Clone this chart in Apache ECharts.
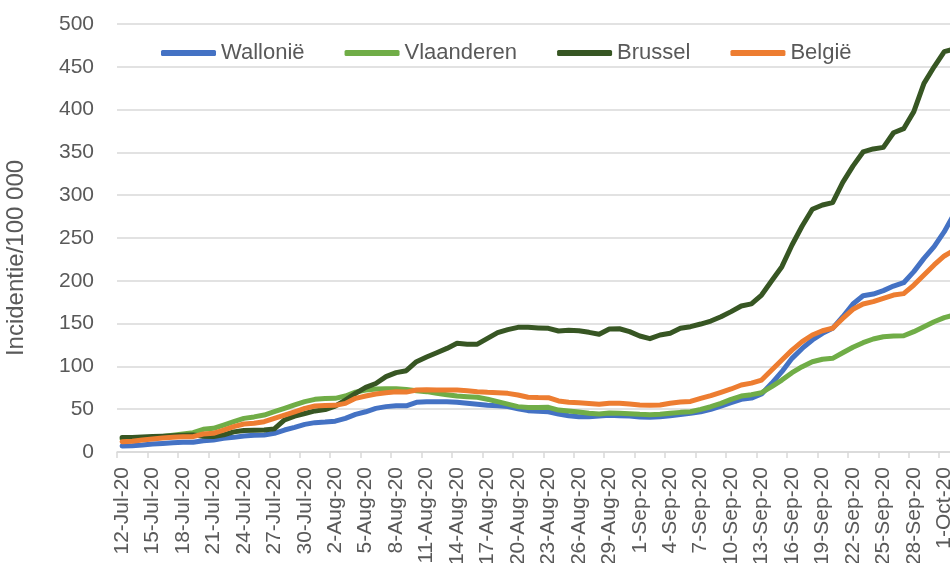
<!DOCTYPE html>
<html>
<head>
<meta charset="utf-8">
<script src="https://cdn.jsdelivr.net/npm/echarts@6/dist/echarts.min.js"></script>
<style>
html,body{margin:0;padding:0;background:#fff;}
#chart{width:950px;height:563px;}
</style>
</head>
<body>
<div id="chart"></div>
<script>
var dates = ['12-Jul-20','13-Jul-20','14-Jul-20','15-Jul-20','16-Jul-20','17-Jul-20','18-Jul-20','19-Jul-20','20-Jul-20','21-Jul-20',
'22-Jul-20','23-Jul-20','24-Jul-20','25-Jul-20','26-Jul-20','27-Jul-20','28-Jul-20','29-Jul-20','30-Jul-20','31-Jul-20',
'1-Aug-20','2-Aug-20','3-Aug-20','4-Aug-20','5-Aug-20','6-Aug-20','7-Aug-20','8-Aug-20','9-Aug-20','10-Aug-20',
'11-Aug-20','12-Aug-20','13-Aug-20','14-Aug-20','15-Aug-20','16-Aug-20','17-Aug-20','18-Aug-20','19-Aug-20','20-Aug-20',
'21-Aug-20','22-Aug-20','23-Aug-20','24-Aug-20','25-Aug-20','26-Aug-20','27-Aug-20','28-Aug-20','29-Aug-20','30-Aug-20',
'31-Aug-20','1-Sep-20','2-Sep-20','3-Sep-20','4-Sep-20','5-Sep-20','6-Sep-20','7-Sep-20','8-Sep-20','9-Sep-20',
'10-Sep-20','11-Sep-20','12-Sep-20','13-Sep-20','14-Sep-20','15-Sep-20','16-Sep-20','17-Sep-20','18-Sep-20','19-Sep-20',
'20-Sep-20','21-Sep-20','22-Sep-20','23-Sep-20','24-Sep-20','25-Sep-20','26-Sep-20','27-Sep-20','28-Sep-20','29-Sep-20',
'30-Sep-20','1-Oct-20','2-Oct-20'];

var wallonie = [7,7.4,8.2,9.3,10,10.9,11.3,11.3,13.2,14,16,17.1,18.7,19.5,19.9,21.8,25.7,28.8,32.3,34.3,35,
36,39.3,44,47,51,53,54,54,58,58.6,58.6,58.6,58.2,57,55.8,54.5,54,53,50.6,48.3,47.5,
47,44.4,42.4,41.3,41.3,42,42.8,42.4,42,40.9,40.5,41.3,42.4,43.8,45.2,47,49.8,53.7,57.6,61.5,63,
67.8,80.2,93.8,109.4,121,130.8,138.6,144.5,158,172.9,182.6,184.5,188.5,193.9,197.8,210.7,226.2,239.9,257.4,278.8];

var vlaanderen = [15,15.5,16,17,18,19.5,21,22.6,26.5,27.7,31.5,35.4,39.3,41,43.2,47.1,51,55,58.8,61.5,62.5,
62.7,65.4,70,72.4,73.6,73.9,74,73,71.6,70.5,68.5,67,65.4,64.6,64,61.6,58.8,56,53,52,52,
52.2,49,48,46.7,45.2,44.4,45.5,45.2,44.8,44,43.6,44,45.2,46.3,47,49.8,52.9,56.8,61.5,65.4,67,
69.3,76.3,84,92.7,99.7,105.5,108.3,109.4,116,122.3,127.7,132,134.7,135.5,135.8,140.6,146.4,152.2,156.9,160];

var brussel = [17,17,17.5,18,18.5,19,19.5,20,18.5,18,20,23.5,25,25.5,25.7,27,37.4,42,45,48,49.5,
53.7,60.7,68.5,75.5,80,88,92.7,95,105.5,111,116,121,127,126,126,132.8,139.4,143,145.6,145.6,145,
144.5,141.4,142.2,141.7,139.8,137.5,143.7,144,140.6,135.5,132.4,136.7,138.7,144.5,146.4,149.5,153,158,164,170.6,173,
183.4,200,216.5,241.8,264,283.5,288.6,291.3,315,334,350.5,354,355.9,373,377.7,397.6,430.7,450,467.7,471];

var belgie = [12,12.5,14,15.2,16.4,17.1,17.9,17.9,21,21.8,25.7,29.6,32.7,33.5,35.4,39.3,43.2,47,51,53.7,54.2,
54.5,56.8,62.7,65.4,67.8,69.3,70.5,70,72.4,72.8,72.4,72.4,72.4,71.6,70.5,69.7,69.3,68.5,66.6,64,63.6,
63.5,59.6,58,57.4,56.6,55.7,57,57,56,55,54.5,55,57,58.3,59.1,62.7,65.8,69.7,73.6,78.3,80.5,
84,95.8,107.5,119,128.9,136.7,141.7,144.5,156,166.7,172.9,175.6,179.5,183.4,185,195,206.8,218.5,229,236];

var seriesNames = ['Wallonië','Vlaanderen','Brussel','België'];
var seriesColors = ['#4472C4','#70AD47','#375623','#ED7D31'];
var seriesData = [wallonie, vlaanderen, brussel, belgie];
var yAxisTitle = 'Incidentie/100 000';

var FONT = 'Liberation Sans, Arial, sans-serif';
var TXT = '#595959';

var chart = echarts.init(document.getElementById('chart'), null, {renderer:'canvas'});
chart.setOption({
  animation: false,
  textStyle: {fontFamily: FONT},
  legend: {
    data: seriesNames,
    left: 156, top: 37,
    icon: 'roundRect',
    itemWidth: 55, itemHeight: 6,
    itemGap: 40,
    textStyle: {fontSize: 22, color: TXT, fontFamily: FONT}
  },
  grid: {left: 117, top: 24, width: 842.5, bottom: 111, containLabel: false, outerBoundsMode: 'none'},
  xAxis: {
    type: 'category',
    data: dates,
    boundaryGap: true,
    axisLine: {lineStyle: {color: '#d9d9d9', width: 1.5}},
    axisTick: {show: true, interval: 2, length: 6, lineStyle: {color: '#d9d9d9', width: 1.5}},
    axisLabel: {interval: 2, rotate: 90, margin: 15, fontSize: 21, color: TXT, fontFamily: FONT}
  },
  yAxis: {
    type: 'value',
    min: 0, max: 500, interval: 50,
    name: yAxisTitle,
    nameLocation: 'middle',
    nameGap: 89,
    nameTextStyle: {fontSize: 24, color: TXT, fontFamily: FONT, padding: [0, 40, 0, 0]},
    axisLine: {show: false},
    axisTick: {show: false},
    axisLabel: {margin: 23, fontSize: 21, color: TXT, fontFamily: FONT},
    splitLine: {lineStyle: {color: '#d9d9d9', width: 1.5}}
  },
  series: seriesNames.map(function(n, k){
    return {
      name: n, type: 'line', data: seriesData[k],
      showSymbol: false, symbol: 'none',
      color: seriesColors[k],
      lineStyle: {width: 5, color: seriesColors[k], cap: 'round', join: 'round'}
    };
  })
});
</script>
</body>
</html>
